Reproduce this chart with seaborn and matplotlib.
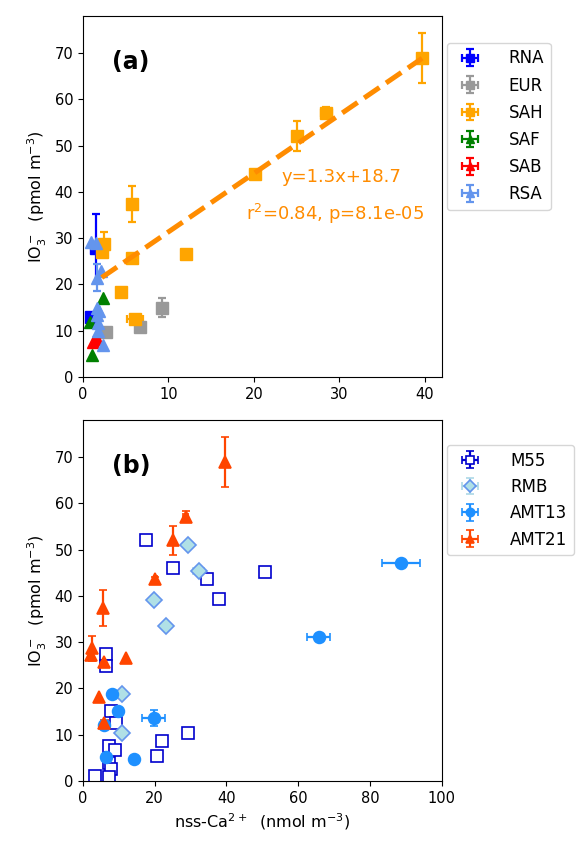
import math
import numpy as np
import matplotlib
matplotlib.use("Agg")
import matplotlib.pyplot as plt
import seaborn as sns

# ---------------- panel (a): IO3- vs nss-Ca2+ by source region ----------------
rna_x = [1.5, 1.0]
rna_y = [27.8, 13.0]
rna_xerr = [np.nan, np.nan]
rna_yerr = [7.5, np.nan]

eur_x = [2.65, 6.7, 9.25]
eur_y = [9.8, 10.8, 15.0]
eur_xerr = [np.nan, np.nan, np.nan]
eur_yerr = [np.nan, np.nan, 2.0]

sah_x = [39.7, 28.5, 25.1, 20.1, 12.1, 5.7, 5.8, 4.4, 6.1, 2.5, 2.2]
sah_y = [69.0, 57.1, 52.1, 43.8, 26.6, 37.3, 25.8, 18.3, 12.5, 28.7, 27.0]
sah_xerr = [0.3, 0.6, np.nan, 0.3, np.nan, np.nan, np.nan, np.nan, 0.9, np.nan, np.nan]
sah_yerr = [5.4, 1.2, 3.2, 0.5, np.nan, 3.9, np.nan, np.nan, np.nan, 2.7, np.nan]

saf_x = [0.8, 1.1, 2.4]
saf_y = [11.9, 4.7, 17.0]
saf_xerr = [np.nan, np.nan, np.nan]
saf_yerr = [np.nan, np.nan, np.nan]

sab_x = [1.2, 1.7]
sab_y = [7.6, 8.3]
sab_xerr = [np.nan, np.nan]
sab_yerr = [np.nan, np.nan]

rsa_x = [0.9, 1.5, 1.6, 2.1, 1.7, 1.7, 1.8, 1.8, 2.4, 1.9]
rsa_y = [29.1, 28.9, 21.5, 22.8, 14.9, 13.4, 11.6, 9.9, 6.9, 14.3]
rsa_xerr = [np.nan] * 10
rsa_yerr = [np.nan, np.nan, 3.0, np.nan, np.nan, np.nan, np.nan, np.nan, np.nan, np.nan]

# ---------------- panel (b): IO3- vs nss-Ca2+ by cruise ----------------
m55_x = [17.5, 25.1, 34.5, 37.9, 50.7, 6.3, 6.5, 7.9, 9.3, 7.2, 9.0, 22.1, 29.4, 20.7, 7.4, 7.9, 3.3, 7.2]
m55_y = [52.0, 46.1, 43.6, 39.3, 45.2, 27.4, 24.8, 15.2, 12.6, 7.6, 6.7, 8.6, 10.3, 5.4, 3.8, 2.7, 1.1, 0.9]
m55_xerr = [np.nan] * 18
m55_yerr = [np.nan] * 18

rmb_x = [29.3, 32.3, 19.7, 23.2, 11.0, 10.8]
rmb_y = [51.1, 45.4, 39.2, 33.5, 18.7, 10.3]
rmb_xerr = [np.nan, 1.5, np.nan, np.nan, np.nan, np.nan]
rmb_yerr = [np.nan] * 6

amt13_x = [8.1, 9.9, 5.8, 19.7, 6.3, 14.1, 88.6, 65.7]
amt13_y = [18.7, 15.2, 12.1, 13.7, 5.2, 4.75, 47.2, 31.2]
amt13_xerr = [np.nan, np.nan, np.nan, 3.2, np.nan, np.nan, 5.3, 3.2]
amt13_yerr = [np.nan, np.nan, np.nan, 1.7, np.nan, np.nan, np.nan, np.nan]

amt21_x = [39.7, 28.6, 25.1, 20.2, 12.1, 5.7, 5.8, 4.4, 6.0, 2.6, 2.2]
amt21_y = [69.0, 57.1, 52.0, 43.6, 26.6, 37.3, 25.8, 18.2, 12.5, 28.7, 27.2]
amt21_xerr = [0.3, 0.8, np.nan, 0.3, np.nan, np.nan, np.nan, np.nan, 0.9, np.nan, np.nan]
amt21_yerr = [5.4, 1.2, 3.2, 0.5, np.nan, 3.9, np.nan, np.nan, np.nan, 2.7, np.nan]


def t_test_p(t, df):
    """Two-sided p-value of Student's t via the regularized incomplete beta."""
    a, b = df / 2.0, 0.5
    xb = df / (df + t * t)
    u = np.linspace(0.0, xb, 400001)
    f = u ** (a - 1) * (1 - u) ** (b - 1)
    integral = np.trapezoid(f, u)
    beta = math.exp(math.lgamma(a) + math.lgamma(b) - math.lgamma(a + b))
    return integral / beta


sns.set_style("ticks", rc={
    "axes.edgecolor": "black",
    "axes.labelcolor": "black",
    "text.color": "black",
    "xtick.color": "black",
    "ytick.color": "black",
    "axes.linewidth": 1.3,
    "xtick.major.width": 1.3,
    "ytick.major.width": 1.3,
    "xtick.major.size": 5,
    "ytick.major.size": 5,
})
plt.rcParams["font.family"] = ["DejaVu Sans"]
plt.rcParams["xtick.labelsize"] = 10.5
plt.rcParams["ytick.labelsize"] = 10.5
plt.rcParams["axes.labelsize"] = 11.5

fig = plt.figure(figsize=(5.76, 8.44), dpi=100)
ax1 = fig.add_axes([0.144, 0.5533, 0.623, 0.4277])
ax2 = fig.add_axes([0.144, 0.0746, 0.623, 0.4277])

eb_kw = dict(elinewidth=1.6, capsize=3, capthick=1.6, linestyle="none")

groups_a = [
    ("RNA", rna_x, rna_y, rna_xerr, rna_yerr, "blue", "s"),
    ("EUR", eur_x, eur_y, eur_xerr, eur_yerr, "#999999", "s"),
    ("SAH", sah_x, sah_y, sah_xerr, sah_yerr, "orange", "s"),
    ("SAF", saf_x, saf_y, saf_xerr, saf_yerr, "green", "^"),
    ("SAB", sab_x, sab_y, sab_xerr, sab_yerr, "red", "^"),
    ("RSA", rsa_x, rsa_y, rsa_xerr, rsa_yerr, "cornflowerblue", "^"),
]
for name, x, y, xe, ye, col, mk in groups_a:
    ax1.errorbar(x, y, xerr=xe, yerr=ye, marker=mk, ms=9, color=col,
                 mec=col, label=name, **eb_kw)

# least-squares fit through the SAH samples
slope, intercept = np.polyfit(sah_x, sah_y, 1)
r = np.corrcoef(sah_x, sah_y)[0, 1]
n = len(sah_x)
t_stat = r * math.sqrt(n - 2) / math.sqrt(1 - r * r)
p_val = t_test_p(t_stat, n - 2)
sns.regplot(x=np.array(sah_x), y=np.array(sah_y), ax=ax1, scatter=False,
            ci=None, truncate=True,
            line_kws=dict(color="darkorange", ls="--", lw=3.6, zorder=3))
ax1.text(30.2, 43.2, f"y={slope:.1f}x+{intercept:.1f}", color="darkorange",
         ha="center", va="center", fontsize=13)
ax1.text(29.5, 35.3, f"r$^2$={r * r:.2f}, p={p_val:.1e}", color="darkorange",
         ha="center", va="center", fontsize=13)

ax1.set_xlim(0, 42)
ax1.set_ylim(0, 78)
ax1.set_xticks([0, 10, 20, 30, 40])
ax1.set_yticks(range(0, 80, 10))
ax1.set_xlabel("")
ax1.set_ylabel("IO$_3^-$  (pmol m$^{-3}$)")
ax1.text(0.08, 0.873, "(a)", transform=ax1.transAxes, fontsize=17,
         fontweight="bold", ha="left", va="center")
ax1.legend(loc="upper left", bbox_to_anchor=(1.0, 0.94), borderaxespad=0.3,
           fontsize=12, handletextpad=1.3, markerscale=0.7, labelspacing=0.55)

groups_b = [
    ("M55", m55_x, m55_y, m55_xerr, m55_yerr, "mediumblue", "white", "s", 8.5),
    ("RMB", rmb_x, rmb_y, rmb_xerr, rmb_yerr, "lightblue", "powderblue", "D", 8.5),
    ("AMT13", amt13_x, amt13_y, amt13_xerr, amt13_yerr, "dodgerblue", "dodgerblue", "o", 8.5),
    ("AMT21", amt21_x, amt21_y, amt21_xerr, amt21_yerr, "orangered", "orangered", "^", 9),
]
for name, x, y, xe, ye, col, face, mk, ms in groups_b:
    edge = "cornflowerblue" if name == "RMB" else col
    ax2.errorbar(x, y, xerr=xe, yerr=ye, marker=mk, ms=ms, color=col,
                 mfc=face, mec=edge, mew=1.2, label=name, **eb_kw)

ax2.set_xlim(0, 100)
ax2.set_ylim(0, 78)
ax2.set_xticks(range(0, 101, 20))
ax2.set_yticks(range(0, 80, 10))
ax2.set_xlabel("nss-Ca$^{2+}$  (nmol m$^{-3}$)")
ax2.set_ylabel("IO$_3^-$  (pmol m$^{-3}$)")
ax2.text(0.08, 0.873, "(b)", transform=ax2.transAxes, fontsize=17,
         fontweight="bold", ha="left", va="center")
ax2.legend(loc="upper left", bbox_to_anchor=(1.0, 0.945), borderaxespad=0.3,
           fontsize=12, handletextpad=1.4, markerscale=0.7)

for ax in (ax1, ax2):
    for side in ("top", "right", "bottom", "left"):
        ax.spines[side].set_visible(True)
        ax.spines[side].set_color("black")

fig.savefig("out.png", dpi=100)
